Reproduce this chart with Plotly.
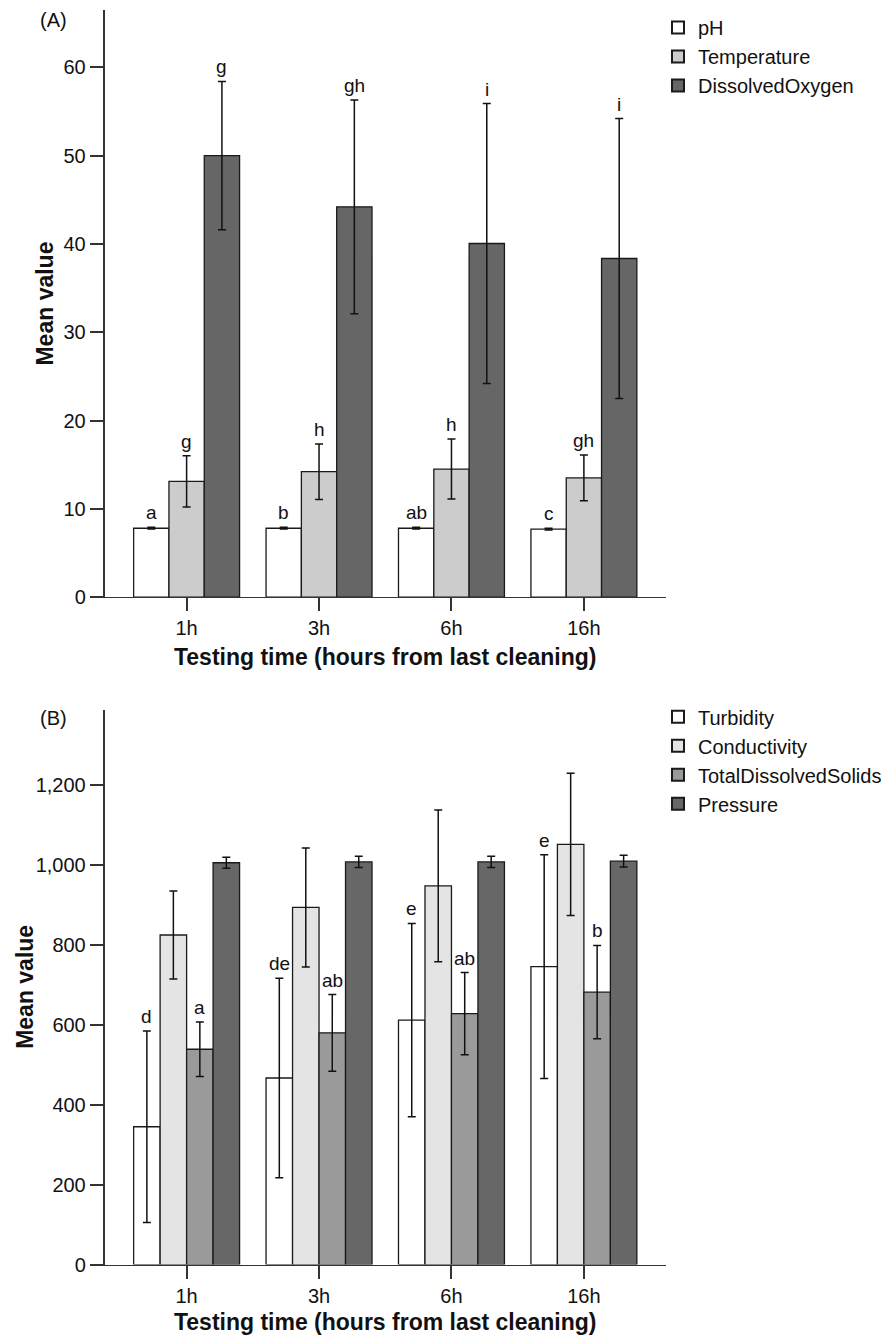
import plotly.graph_objects as go

# ---------------- data ----------------
categories = ["1h", "3h", "6h", "16h"]

# Panel A
ph = [7.8, 7.8, 7.8, 7.7]
ph_err = [0.1, 0.1, 0.1, 0.1]
temperature = [13.1, 14.2, 14.5, 13.5]
temperature_err = [2.9, 3.15, 3.4, 2.6]
dissolved_oxygen = [50.0, 44.2, 40.05, 38.35]
dissolved_oxygen_err = [8.4, 12.1, 15.85, 15.85]
ph_letters = ["a", "b", "ab", "c"]
temperature_letters = ["g", "h", "h", "gh"]
dissolved_oxygen_letters = ["g", "gh", "i", "i"]

# Panel B
turbidity = [345, 467, 612, 746]
turbidity_err = [240, 250, 242, 280]
conductivity = [825, 894, 948, 1052]
conductivity_err = [110, 149, 190, 178]
tds = [539, 580, 628, 682]
tds_err = [68, 96, 103, 117]
pressure = [1006, 1008, 1008, 1010]
pressure_err = [14, 14, 14, 15]
turbidity_letters = ["d", "de", "e", "e"]
tds_letters = ["a", "ab", "ab", "b"]

yticks_a = [0, 10, 20, 30, 40, 50, 60]
yticks_b = [0, 200, 400, 600, 800, 1000, 1200]

# ---------------- styling ----------------
FONT = "Liberation Sans, Arial, Helvetica, sans-serif"
OUTLINE = "#1a1a1a"
AXIS = "#333333"
TXT = "#111111"

# the page body offsets the figure by 8px: work in page pixels
OFF = 8
W, H = 889 - OFF, 1340 - OFF

def px(x):
    return (x - OFF) / W

def py(y):
    return 1 - (y - OFF) / H

fig = go.Figure()
annotations = []

def add_group(series, xref, yref, legend):
    n = len(series)
    w = 0.8 / n
    for j, (name, vals, errs, color, letters) in enumerate(series):
        off = (j - (n - 1) / 2) * w
        xs = [i + off for i in range(len(categories))]
        fig.add_trace(go.Bar(
            x=xs, y=vals, width=w, name=name,
            marker=dict(color=color, line=dict(color=OUTLINE, width=1.3)),
            error_y=dict(type="data", array=errs, visible=True,
                         color=TXT, thickness=1.5, width=4),
            xaxis=xref, yaxis=yref, legend=legend,
        ))
        if letters:
            for x, v, e, t in zip(xs, vals, errs, letters):
                annotations.append(dict(
                    x=x, y=v + e, xref=xref, yref=yref, text=t,
                    showarrow=False, xanchor="center", yanchor="bottom", yshift=2,
                    font=dict(family=FONT, size=19, color=TXT),
                ))

add_group([
    ("pH", ph, ph_err, "#ffffff", ph_letters),
    ("Temperature", temperature, temperature_err, "#cccccc", temperature_letters),
    ("DissolvedOxygen", dissolved_oxygen, dissolved_oxygen_err, "#666666", dissolved_oxygen_letters),
], "x", "y", "legend")

add_group([
    ("Turbidity", turbidity, turbidity_err, "#ffffff", turbidity_letters),
    ("Conductivity", conductivity, conductivity_err, "#e4e4e4", None),
    ("TotalDissolvedSolids", tds, tds_err, "#9a9a9a", tds_letters),
    ("Pressure", pressure, pressure_err, "#676767", None),
], "x2", "y2", "legend2")

xdom = [px(104.5), px(666)]
ydom_a = [py(602), py(10)]
ydom_b = [py(1275), py(716)]

tickfont = dict(family=FONT, size=20, color=TXT)
title_font = dict(family=FONT, size=23, color=TXT, weight="bold")

xaxis_common = dict(
    domain=xdom, range=[-0.62, 3.62],
    tickmode="array", tickvals=list(range(len(categories))), ticktext=categories,
    ticks="outside", ticklen=13, tickwidth=1.5, tickcolor=AXIS,
    showline=True, linecolor=AXIS, linewidth=1.3, showgrid=False, zeroline=False,
    tickfont=tickfont,
)
yaxis_common = dict(
    ticks="outside", ticklen=13, tickwidth=1.5, tickcolor=AXIS,
    showline=True, linecolor=AXIS, linewidth=1.5, showgrid=False, zeroline=False,
    tickfont=tickfont,
)

def label(x, y, text, size, angle=0):
    return dict(x=px(x), y=py(y), xref="paper", yref="paper", text=text,
                textangle=angle, showarrow=False, xanchor="center", yanchor="middle",
                font=dict(family=FONT, size=size, color=TXT))

annotations += [
    label(53, 20, "(A)", 20),
    label(53, 724, "(B)", 20),
    label(45, 306, "<b>Mean value</b>", 23, -90),
    label(25, 995, "<b>Mean value</b>", 23, -90),
]

legend_font = dict(family=FONT, size=20, color=TXT)

fig.update_layout(
    width=W, height=H, margin=dict(l=0, r=0, t=0, b=0),
    paper_bgcolor="white", plot_bgcolor="white",
    barmode="overlay",
    font=dict(family=FONT, color=TXT),
    xaxis=dict(**xaxis_common, anchor="y",
               title=dict(text="Testing time (hours from last cleaning)", font=title_font, standoff=10)),
    yaxis=dict(**yaxis_common, domain=ydom_a, range=[0, 66.5], anchor="x",
               tickvals=yticks_a),
    xaxis2=dict(**xaxis_common, anchor="y2",
                title=dict(text="Testing time (hours from last cleaning)", font=title_font, standoff=8)),
    yaxis2=dict(**yaxis_common, domain=ydom_b, range=[0, 1388], anchor="x2",
                tickvals=yticks_b, tickformat=",d"),
    legend=dict(x=px(658), y=1, xanchor="left", yanchor="top",
                font=legend_font, bgcolor="rgba(0,0,0,0)",
                tracegroupgap=0, itemsizing="constant"),
    legend2=dict(x=px(658), y=py(703), xanchor="left", yanchor="top",
                 font=legend_font, bgcolor="rgba(0,0,0,0)",
                 tracegroupgap=0, itemsizing="constant"),
    annotations=annotations,
    showlegend=True,
)

fig.write_html("out.html")
